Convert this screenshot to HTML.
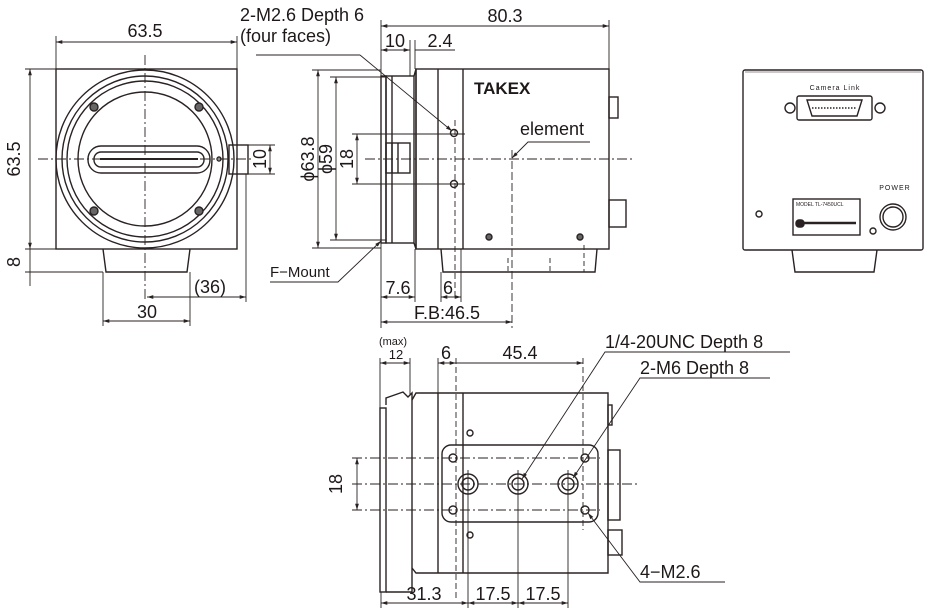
<!DOCTYPE html>
<html><head><meta charset="utf-8"><style>
html,body{margin:0;padding:0;background:#fff;width:938px;height:614px;overflow:hidden}
svg{display:block}
text{font-family:"Liberation Sans",sans-serif;fill:#1e1818}
</style></head><body>
<svg width="938" height="614" viewBox="0 0 938 614" xmlns="http://www.w3.org/2000/svg">
<defs>
<marker id="a" viewBox="0 0 10 10" refX="10" refY="5" markerWidth="7" markerHeight="7" orient="auto-start-reverse"><path d="M0,2 L10,5 L0,8 z" fill="#2a2222"/></marker>
</defs>
<g stroke="#2a2222" fill="none" stroke-width="1.4">
<!-- FRONT VIEW -->
<rect x="56" y="69" width="181" height="180"/>
<circle cx="145" cy="159" r="89"/>
<circle cx="145" cy="159" r="83"/>
<circle cx="145" cy="159" r="78"/>
<circle cx="145" cy="159" r="67"/>
<rect x="88" y="146" width="122" height="27" rx="13"/>
<rect x="94" y="152" width="110" height="15" rx="7"/>
<line x1="100" y1="159" x2="198" y2="159" stroke-width="2"/>
<circle cx="94" cy="107" r="4" fill="#666"/><circle cx="199" cy="107" r="4" fill="#666"/>
<circle cx="94" cy="211" r="4" fill="#666"/><circle cx="199" cy="211" r="4" fill="#666"/>
<circle cx="219" cy="159" r="2"/>
<rect x="229" y="145" width="19" height="29"/>
<path d="M103,249 L106,272 L187,272 L190,249"/>
<g stroke-width="0.9">
<line x1="56" y1="42" x2="237" y2="42" marker-start="url(#a)" marker-end="url(#a)"/>
<line x1="56" y1="36" x2="56" y2="69"/><line x1="237" y1="36" x2="237" y2="69"/>
<line x1="30" y1="69" x2="30" y2="249" marker-start="url(#a)" marker-end="url(#a)"/>
<line x1="25" y1="69" x2="56" y2="69"/><line x1="25" y1="249" x2="56" y2="249"/>
<line x1="30" y1="249" x2="30" y2="286" /><line x1="25" y1="272" x2="103" y2="272"/>
<line x1="248" y1="145" x2="275" y2="145"/><line x1="248" y1="174" x2="275" y2="174"/>
<line x1="270" y1="145" x2="270" y2="174" marker-start="url(#a)" marker-end="url(#a)"/>
<line x1="246" y1="174" x2="246" y2="302"/>
<line x1="147" y1="297" x2="246" y2="297" marker-start="url(#a)" marker-end="url(#a)"/>
<line x1="103" y1="272" x2="103" y2="326"/><line x1="190" y1="272" x2="190" y2="326"/>
<line x1="103" y1="321" x2="190" y2="321" marker-start="url(#a)" marker-end="url(#a)"/>
<line x1="38" y1="159" x2="252" y2="159" stroke-dasharray="10,3,2,3"/>
<line x1="145" y1="55" x2="145" y2="302" stroke-dasharray="10,3,2,3"/>
</g>
<!-- SIDE VIEW -->
<rect x="381" y="76" width="5" height="167"/>
<rect x="386" y="76" width="28" height="167"/>
<line x1="392" y1="76" x2="392" y2="243"/>
<path d="M414,76 L416,69 L416,249 L414,243"/>
<rect x="416" y="69" width="193" height="180"/>
<line x1="438" y1="69" x2="438" y2="249"/>
<line x1="463" y1="69" x2="463" y2="249"/>
<rect x="386" y="143" width="24" height="30"/>
<line x1="392" y1="143" x2="392" y2="173"/><line x1="398" y1="143" x2="398" y2="173"/>
<path d="M441,249 L443,272 L595,272 L597,249"/>
<rect x="609" y="97" width="9" height="21"/>
<rect x="609" y="200" width="17" height="27"/>
<circle cx="454" cy="133" r="3.5"/><circle cx="454" cy="184" r="3.5"/>
<circle cx="489" cy="237" r="3" fill="#666"/><circle cx="580" cy="237" r="3" fill="#666"/>
<g stroke-width="0.9">
<line x1="381" y1="26" x2="609" y2="26" marker-start="url(#a)" marker-end="url(#a)"/>
<line x1="381" y1="20" x2="381" y2="76"/><line x1="609" y1="20" x2="609" y2="69"/>
<line x1="381" y1="50" x2="410" y2="50" marker-start="url(#a)" marker-end="url(#a)"/>
<line x1="410" y1="40" x2="410" y2="76"/><line x1="415" y1="40" x2="415" y2="69"/>
<line x1="415" y1="50" x2="455" y2="50"/>
<line x1="318" y1="70" x2="318" y2="248" marker-start="url(#a)" marker-end="url(#a)"/>
<line x1="312" y1="70" x2="381" y2="70"/><line x1="312" y1="248" x2="381" y2="248"/>
<line x1="336" y1="77" x2="336" y2="240" marker-start="url(#a)" marker-end="url(#a)"/>
<line x1="330" y1="77" x2="386" y2="77"/><line x1="330" y1="240" x2="386" y2="240"/>
<line x1="357" y1="134" x2="357" y2="184" marker-start="url(#a)" marker-end="url(#a)"/>
<line x1="352" y1="134" x2="465" y2="134"/><line x1="352" y1="184" x2="465" y2="184"/>
<line x1="455" y1="120" x2="455" y2="300" stroke-dasharray="6,3"/>
<line x1="365" y1="159" x2="635" y2="159" stroke-dasharray="10,3,2,3"/>
<line x1="512" y1="150" x2="512" y2="328" stroke-dasharray="8,3"/>
<polyline points="512,158 528,142 590,142" marker-start="url(#a)"/>
<line x1="256" y1="55" x2="360" y2="55"/><line x1="360" y1="55" x2="452" y2="131" marker-end="url(#a)"/>
<polyline points="270,282 338,282 381,241" marker-end="url(#a)"/>
<line x1="381" y1="243" x2="381" y2="328"/><line x1="415" y1="249" x2="415" y2="302"/>
<line x1="441" y1="272" x2="441" y2="302"/><line x1="461" y1="249" x2="461" y2="302"/>
<line x1="381" y1="297" x2="415" y2="297" marker-start="url(#a)" marker-end="url(#a)"/>
<line x1="441" y1="297" x2="461" y2="297" marker-start="url(#a)" marker-end="url(#a)"/>
<line x1="381" y1="322" x2="512" y2="322" marker-start="url(#a)" marker-end="url(#a)"/>
<line x1="508" y1="258" x2="508" y2="272" stroke-dasharray="5,3"/><line x1="550" y1="258" x2="550" y2="272" stroke-dasharray="5,3"/><line x1="584" y1="245" x2="584" y2="272" stroke-dasharray="5,3"/>
</g>
<!-- BOTTOM VIEW -->
<rect x="380" y="408" width="6" height="184"/>
<path d="M386,405 L386,398 L403,392 L408,397 L412,393 L412,592 L386,592"/>
<path d="M412,400 L416,393 L608,393 L608,573 L416,573 L412,568"/>
<line x1="438" y1="393" x2="438" y2="573"/>
<line x1="463" y1="393" x2="463" y2="573"/>
<rect x="442" y="445" width="156" height="77" rx="9"/>
<circle cx="468" cy="484" r="10"/><circle cx="468" cy="484" r="6"/>
<circle cx="518" cy="484" r="10"/><circle cx="518" cy="484" r="6"/>
<circle cx="568" cy="484" r="10"/><circle cx="568" cy="484" r="6"/>
<circle cx="453" cy="458" r="4"/><circle cx="453" cy="510" r="4"/>
<circle cx="585" cy="458" r="4"/><circle cx="585" cy="510" r="4"/>
<circle cx="470" cy="433" r="3"/><circle cx="470" cy="535" r="3"/>
<rect x="608" y="405" width="4" height="20"/>
<rect x="608" y="450" width="12" height="70"/>
<rect x="608" y="530" width="14" height="25"/>
<g stroke-width="0.9">
<line x1="380" y1="363" x2="410" y2="363" marker-start="url(#a)" marker-end="url(#a)"/>
<line x1="380" y1="358" x2="380" y2="408"/><line x1="410" y1="358" x2="410" y2="395"/>
<line x1="438" y1="363" x2="456" y2="363" marker-start="url(#a)" marker-end="url(#a)"/>
<line x1="438" y1="358" x2="438" y2="393"/><line x1="456" y1="358" x2="456" y2="600" stroke-dasharray="6,3"/>
<line x1="456" y1="363" x2="583" y2="363" marker-end="url(#a)"/>
<line x1="583" y1="358" x2="583" y2="530" stroke-dasharray="6,3"/>
<line x1="352" y1="458" x2="600" y2="458" stroke-dasharray="10,3,2,3"/>
<line x1="352" y1="510" x2="600" y2="510" stroke-dasharray="10,3,2,3"/>
<line x1="357" y1="458" x2="357" y2="510" marker-start="url(#a)" marker-end="url(#a)"/>
<line x1="352" y1="484" x2="640" y2="484" stroke-dasharray="10,3,2,3"/>
<line x1="381" y1="592" x2="381" y2="608"/><line x1="468" y1="470" x2="468" y2="608"/>
<line x1="518" y1="470" x2="518" y2="608"/><line x1="568" y1="470" x2="568" y2="608"/>
<line x1="381" y1="603" x2="468" y2="603" marker-start="url(#a)" marker-end="url(#a)"/>
<line x1="468" y1="603" x2="518" y2="603" marker-start="url(#a)" marker-end="url(#a)"/>
<line x1="518" y1="603" x2="568" y2="603" marker-start="url(#a)" marker-end="url(#a)"/>
<polyline points="790,352 605,352 522,479" marker-end="url(#a)"/>
<polyline points="770,378 640,378 573,478" marker-end="url(#a)"/>
<polyline points="725,582 640,582 588,513" marker-end="url(#a)"/>
</g>
<!-- REAR VIEW -->
<rect x="743" y="70" width="180" height="180" rx="2"/>
<line x1="745" y1="72" x2="921" y2="72" stroke-width="0.6"/>
<path d="M792,250 L795,272 L874,272 L877,250"/>
<rect x="797" y="96" width="75" height="24" rx="2"/>
<path d="M807,100 L862,100 L857,116 L812,116 z"/>
<line x1="812" y1="108" x2="857" y2="108" stroke-dasharray="1.5,1.5"/>
<circle cx="790" cy="108" r="5"/><circle cx="880" cy="108" r="5"/>
<rect x="793" y="199" width="67" height="36"/>
<rect x="796" y="220" width="8" height="7" rx="3" fill="#2a2222"/>
<line x1="804" y1="223" x2="856" y2="223" stroke-width="2.5"/>
<circle cx="893" cy="217" r="13"/><circle cx="893" cy="217" r="10"/>
<circle cx="873" cy="231" r="3"/>
<circle cx="759" cy="214" r="3"/>
</g>
<g font-size="18">
<text x="145" y="37" text-anchor="middle">63.5</text>
<text x="505" y="22" text-anchor="middle">80.3</text>
<text x="395" y="47" text-anchor="middle">10</text>
<text x="440" y="47" text-anchor="middle">2.4</text>
<text x="240" y="21">2-M2.6 Depth 6</text>
<text x="240" y="42">(four faces)</text>
<text x="520" y="135">element</text>
<text x="398" y="294" text-anchor="middle">7.6</text>
<text x="448" y="294" text-anchor="middle">6</text>
<text x="447" y="319" text-anchor="middle">F.B:46.5</text>
<text x="210" y="293" text-anchor="middle">(36)</text>
<text x="147" y="318" text-anchor="middle">30</text>
<text x="270" y="277" font-size="15">F−Mount</text>
<text x="446" y="359" text-anchor="middle">6</text>
<text x="520" y="359" text-anchor="middle">45.4</text>
<text x="605" y="348">1/4-20UNC Depth 8</text>
<text x="640" y="374">2-M6 Depth 8</text>
<text x="640" y="578">4−M2.6</text>
<text x="424" y="600" text-anchor="middle">31.3</text>
<text x="493" y="600" text-anchor="middle">17.5</text>
<text x="543" y="600" text-anchor="middle">17.5</text>
<text transform="translate(20,159) rotate(-90)" text-anchor="middle">63.5</text>
<text transform="translate(20,262) rotate(-90)" text-anchor="middle">8</text>
<text transform="translate(266,159) rotate(-90)" text-anchor="middle">10</text>
<text transform="translate(314,159) rotate(-90)" text-anchor="middle">ϕ63.8</text>
<text transform="translate(332,159) rotate(-90)" text-anchor="middle">ϕ59</text>
<text transform="translate(353,159) rotate(-90)" text-anchor="middle">18</text>
<text transform="translate(342,484) rotate(-90)" text-anchor="middle">18</text>
</g>
<text x="393" y="345" font-size="11" text-anchor="middle">(max)</text>
<text x="396" y="359" font-size="13" text-anchor="middle">12</text>
<text x="474" y="94" font-size="17" font-weight="bold">TAKEX</text>
<text x="835" y="90" font-size="7" text-anchor="middle" letter-spacing="1">Camera Link</text>
<text x="895" y="190" font-size="7" text-anchor="middle" letter-spacing="1">POWER</text>
<text x="796" y="206" font-size="5">MODEL TL-7450UCL</text>
</svg>
</body></html>
